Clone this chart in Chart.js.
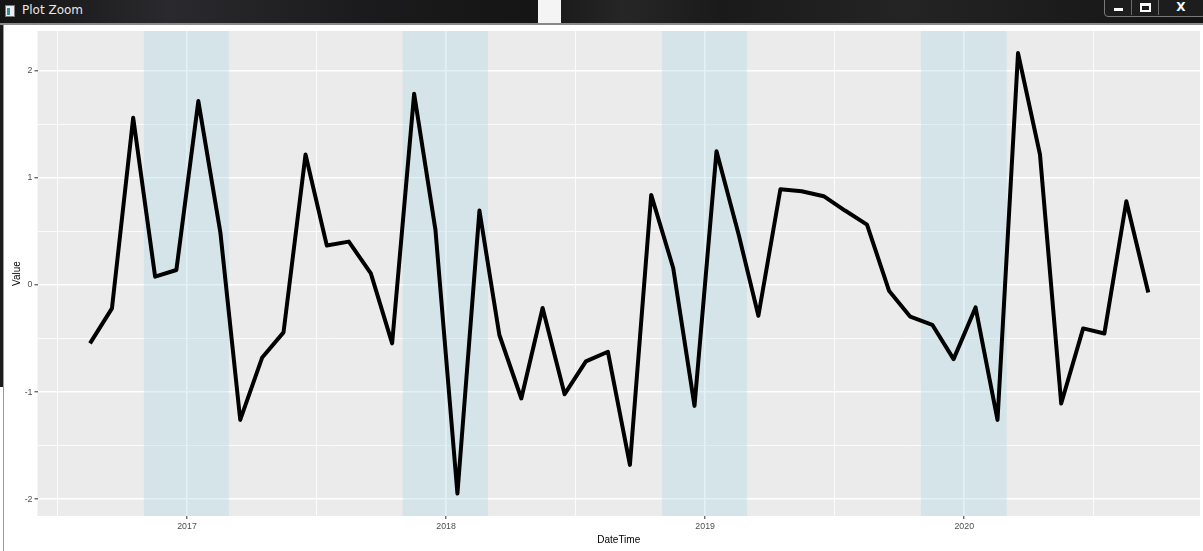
<!DOCTYPE html>
<html>
<head>
<meta charset="utf-8">
<title>Plot Zoom</title>
<script src="https://cdn.jsdelivr.net/npm/chart.js@4.4.0/dist/chart.umd.min.js"></script>
<style>
  html, body { margin: 0; padding: 0; background: #ffffff; }
  body { width: 1203px; height: 551px; position: relative; overflow: hidden; font-family: "Liberation Sans", Arial, sans-serif; }
  #chartCanvas { position: absolute; left: 0; top: 0; }
  #titleBar {
    position: absolute; left: 0; top: 0; width: 1203px; height: 23px;
    background: linear-gradient(90deg, #141414 0%, #2a2a2e 14%, #1b1b1d 30%, #151515 44%, #1c1c1c 47%, #262626 52%, #1a1a1a 60%, #242424 75%, #141414 100%);
  }
  #titleLine { position: absolute; left: 0; top: 23px; width: 1203px; height: 2px; background: #8a8a8a; }
  #whiteStrip { position: absolute; left: 538px; top: 0; width: 23px; height: 23px; background: #f4f4f4; }
  #titleText { position: absolute; left: 22px; top: 3px; color: #e8e8e8; font: 12px "DejaVu Sans", sans-serif; }
  #titleIcon { position: absolute; left: 5px; top: 5px; width: 10px; height: 12px; background: #e9eef0; border: 1px solid #777; box-sizing: border-box; }
  #titleIcon:after { content: ""; position: absolute; left: 1px; top: 2px; width: 3px; height: 7px; background: #3c8a9c; }
  #btnFrame { position: absolute; left: 1104px; top: -1px; width: 100px; height: 16px; border: 1px solid #7a7a7a; border-radius: 0 0 4px 4px; background: #1d1d1d; }
  .btn { position: absolute; top: 0; height: 15px; border-right: 1px solid #6a6a6a; }
  #bMin { left: 0; width: 26px; }
  #bMin:after { content: ""; position: absolute; left: 9px; top: 8px; width: 9px; height: 3px; background: #fff; }
  #bMax { left: 27px; width: 26px; }
  #bMax:after { content: ""; position: absolute; left: 8px; top: 3px; width: 7px; height: 4px; border: 2px solid #fff; border-top-width: 3px; }
  #bClose { left: 54px; width: 44px; border-right: none; color: #fff; font: bold 12px "DejaVu Sans", sans-serif; text-align: center; line-height: 15px; }
  #leftEdge { position: absolute; left: 0; top: 25px; width: 3px; height: 362px; background: #1c1c1c; }
  #leftLine { position: absolute; left: 3px; top: 25px; width: 1px; height: 526px; background: #9a9a9a; }
</style>
</head>
<body>
<canvas id="chartCanvas" width="1203" height="551"></canvas>
<div id="titleBar"></div>
<div id="whiteStrip"></div>
<div id="titleLine"></div>
<div id="titleIcon"></div>
<div id="titleText">Plot Zoom</div>
<div id="btnFrame">
  <div class="btn" id="bMin"></div>
  <div class="btn" id="bMax"></div>
  <div class="btn" id="bClose">X</div>
</div>
<div id="leftEdge"></div>
<div id="leftLine"></div>

<script>
// monthly observations
var months = [
  "2016-08","2016-09","2016-10","2016-11","2016-12",
  "2017-01","2017-02","2017-03","2017-04","2017-05","2017-06","2017-07","2017-08","2017-09","2017-10","2017-11","2017-12",
  "2018-01","2018-02","2018-03","2018-04","2018-05","2018-06","2018-07","2018-08","2018-09","2018-10","2018-11","2018-12",
  "2019-01","2019-02","2019-03","2019-04","2019-05","2019-06","2019-07","2019-08","2019-09","2019-10","2019-11","2019-12",
  "2020-01","2020-02","2020-03","2020-04","2020-05","2020-06","2020-07","2020-08","2020-09"
];
var values = [
  -0.545, -0.218, 1.561, 0.078, 0.140,
  1.717, 0.492, -1.259, -0.676, -0.442, 1.218, 0.368, 0.405, 0.109, -0.545, 1.785, 0.517,
  -1.947, 0.695, -0.464, -1.059, -0.215, -1.019, -0.713, -0.623, -1.679, 0.841, 0.159, -1.128,
  1.249, 0.477, -0.287, 0.894, 0.875, 0.829, 0.695, 0.564, -0.053, -0.296, -0.371, -0.692,
  -0.209, -1.259, 2.165, 1.218, -1.106, -0.405, -0.452, 0.782, -0.069
];
var obsDay = "17";

// shaded winter periods
var shadeStart = ["2016-11-01", "2017-11-01", "2018-11-01", "2019-11-01"];
var shadeEnd   = ["2017-03-01", "2018-03-01", "2019-03-01", "2020-03-01"];

var yearTicks = [2017, 2018, 2019, 2020];

// date string -> decimal year
function decYear(s) {
  var d = new Date(s + "T00:00:00Z");
  var y = d.getUTCFullYear();
  var a = Date.UTC(y, 0, 1), b = Date.UTC(y + 1, 0, 1);
  return y + (d.getTime() - a) / (b - a);
}

var points = months.map(function (m, i) {
  return { x: decYear(m + "-" + obsDay), y: values[i] };
});

var panelPlugin = {
  id: "panel",
  beforeDraw: function (chart) {
    var a = chart.chartArea, ctx = chart.ctx;
    ctx.save();
    ctx.fillStyle = "#ebebeb";
    ctx.fillRect(a.left, a.top, a.right - a.left, a.bottom - a.top);
    ctx.restore();
  },
  beforeDatasetsDraw: function (chart) {
    var a = chart.chartArea, ctx = chart.ctx, xs = chart.scales.x;
    ctx.save();
    ctx.beginPath();
    ctx.rect(a.left, a.top, a.right - a.left, a.bottom - a.top);
    ctx.clip();
    ctx.fillStyle = "rgba(173, 216, 230, 0.36)";
    for (var i = 0; i < shadeStart.length; i++) {
      var x1 = xs.getPixelForValue(decYear(shadeStart[i]));
      var x2 = xs.getPixelForValue(decYear(shadeEnd[i]));
      ctx.fillRect(x1, a.top, x2 - x1, a.bottom - a.top);
    }
    ctx.restore();
  }
};

function isMajor(v) { return Math.abs(v - Math.round(v)) < 1e-6; }

var canvas = document.getElementById("chartCanvas");

new Chart(canvas, {
  type: "line",
  data: {
    datasets: [{
      data: points,
      borderColor: "#000000",
      borderWidth: 4,
      borderJoinStyle: "round",
      borderCapStyle: "butt",
      pointRadius: 0,
      tension: 0,
      fill: false
    }]
  },
  options: {
    responsive: false,
    animation: false,
    devicePixelRatio: 1,
    layout: { padding: { top: 31, left: 0, right: 3, bottom: 0 } },
    plugins: { legend: { display: false }, tooltip: { enabled: false } },
    scales: {
      x: {
        type: "linear",
        min: 2016.423,
        max: 2020.91,
        afterFit: function (s) { s.height = 35; },
        border: { display: false },
        grid: {
          color: "#ffffff",
          lineWidth: function (c) { return isMajor(c.tick.value) ? 1.6 : 0.8; },
          tickColor: function (c) { return isMajor(c.tick.value) ? "#333333" : "rgba(0,0,0,0)"; },
          tickLength: 3,
          tickWidth: 1
        },
        ticks: {
          stepSize: 0.5,
          includeBounds: false,
          autoSkip: false,
          maxRotation: 0,
          padding: 2,
          color: "#4d4d4d",
          font: { family: "Liberation Sans", size: 8.8 },
          callback: function (v) { return yearTicks.indexOf(Math.round(v)) >= 0 && isMajor(v) ? String(Math.round(v)) : ""; }
        },
        title: {
          display: true,
          text: "DateTime",
          color: "#000000",
          font: { family: "Liberation Sans", size: 10 },
          padding: { top: 0, bottom: 4.5 }
        }
      },
      y: {
        min: -2.156,
        max: 2.371,
        afterFit: function (s) { s.width = 37.5; },
        border: { display: false },
        grid: {
          color: "#ffffff",
          lineWidth: function (c) { return isMajor(c.tick.value) ? 1.6 : 0.8; },
          tickColor: function (c) { return isMajor(c.tick.value) ? "#333333" : "rgba(0,0,0,0)"; },
          tickLength: 3,
          tickWidth: 1
        },
        ticks: {
          stepSize: 0.5,
          includeBounds: false,
          autoSkip: false,
          padding: 2,
          color: "#4d4d4d",
          font: { family: "Liberation Sans", size: 8.8 },
          callback: function (v) { return isMajor(v) ? String(Math.round(v)) : ""; }
        },
        title: {
          display: true,
          text: "Value",
          color: "#000000",
          font: { family: "Liberation Sans", size: 10 },
          padding: { top: 11.5, bottom: 0 }
        }
      }
    }
  },
  plugins: [panelPlugin]
});
</script>
</body>
</html>
